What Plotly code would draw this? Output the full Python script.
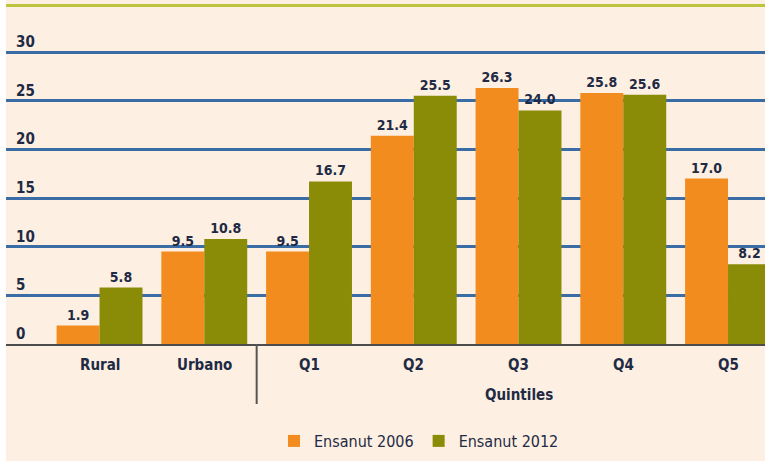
import plotly.graph_objects as go

categories = ["Rural", "Urbano", "Q1", "Q2", "Q3", "Q4", "Q5"]
ensanut_2006 = [1.9, 9.5, 9.5, 21.4, 26.3, 25.8, 17.0]
ensanut_2012 = [5.8, 10.8, 16.7, 25.5, 24.0, 25.6, 8.2]
y_ticks = [0, 5, 10, 15, 20, 25, 30]
series_names = ["Ensanut 2006", "Ensanut 2012"]

W, H = 765, 461
ML, MR, MT, MB = 6, 0, 5, 117
PH = H - MT - MB

FONT = "Liberation Sans Narrow, DejaVu Sans Condensed, Arial Narrow, sans-serif"
TXT = "#1F2A44"
ORANGE = "#F28C1E"
GREEN = "#8A8B06"
BG = "#FDF0E2"

def py(px):
    # pixel y (from top) to paper coordinate
    return (H - MB - px) / PH

fig = go.Figure()
fig.add_trace(go.Bar(
    x=categories, y=ensanut_2006, name=series_names[0],
    marker=dict(color=ORANGE, line=dict(width=0)),
    texttemplate="<b>%{y:.1f}</b>", textposition="outside",
    textfont=dict(family=FONT, size=14, color=TXT), cliponaxis=False,
))
fig.add_trace(go.Bar(
    x=categories, y=ensanut_2012, name=series_names[1],
    marker=dict(color=GREEN, line=dict(width=0)),
    texttemplate="<b>%{y:.1f}</b>", textposition="outside",
    textfont=dict(family=FONT, size=14, color=TXT), cliponaxis=False,
))

annotations = []
for t in y_ticks:
    annotations.append(dict(
        x=(14 - ML) / (W - ML - MR), xref="paper", xanchor="left",
        y=t, yref="y", yanchor="bottom", yshift=-1,
        text=f"<b>{t}</b>", showarrow=False,
        font=dict(family=FONT, size=15, color=TXT),
    ))
for c in categories:
    annotations.append(dict(
        x=c, xref="x", y=py(365), yref="paper", yanchor="middle",
        text=f"<b>{c}</b>", showarrow=False,
        font=dict(family=FONT, size=15, color=TXT),
    ))
annotations.append(dict(
    x="Q3", xref="x", y=py(395), yref="paper", yanchor="middle",
    text="<b>Quintiles</b>", showarrow=False,
    font=dict(family=FONT, size=15, color=TXT),
))

shapes = [
    dict(type="line", xref="x", yref="paper", x0=1.5, x1=1.5,
         y0=0, y1=py(404), line=dict(color="#555555", width=2)),
    dict(type="line", xref="paper", yref="paper", x0=0, x1=1.01,
         y0=py(5.5), y1=py(5.5), line=dict(color="#BDC53E", width=3)),
    dict(type="rect", xref="paper", yref="paper", x0=-0.02, x1=0,
         y0=py(H + 5), y1=py(-5), fillcolor="white", line=dict(width=0),
         layer="above"),
]

y_top = (H - MB - MT) / ((H - MB - 52) / 30)

fig.update_layout(
    width=W, height=H,
    margin=dict(l=ML, r=MR, t=MT, b=MB, pad=0),
    paper_bgcolor=BG, plot_bgcolor=BG,
    barmode="group", bargap=0.18, bargroupgap=0,
    font=dict(family=FONT, color=TXT),
    showlegend=True,
    legend=dict(
        orientation="h", x=(419 - ML) / (W - ML - MR), xanchor="center",
        y=py(441), yanchor="middle", bgcolor="rgba(0,0,0,0)",
        font=dict(family=FONT, size=16, color=TXT),
        itemwidth=30, traceorder="normal",
    ),
    xaxis=dict(
        type="category", range=[-0.893, 6.353],
        showticklabels=False, ticks="", showgrid=False,
        showline=True, linecolor="#4D4D4D", linewidth=2,
        zeroline=False, fixedrange=True,
    ),
    yaxis=dict(
        range=[0, y_top], tickvals=y_ticks, showticklabels=False,
        showgrid=True, gridcolor="#3A6CA6", gridwidth=2.5,
        zeroline=False, ticks="", fixedrange=True,
    ),
    annotations=annotations,
    shapes=shapes,
)

fig.write_html(
    "out.html",
    config={"displayModeBar": False},
    post_script="document.body.style.margin='0';document.body.style.overflow='hidden';",
)
